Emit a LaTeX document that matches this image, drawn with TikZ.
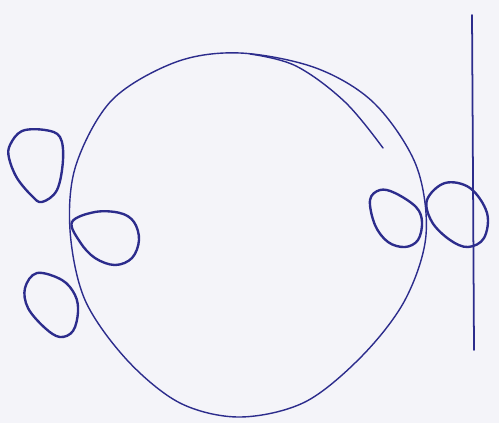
\documentclass[tikz,border=0pt]{standalone}
\usepackage{tikz}

\definecolor{ink}{RGB}{44,44,140}
\definecolor{paper}{RGB}{244,244,249}

\begin{document}
\begin{tikzpicture}[
    x=0.02cm, y=-0.02cm,
    % Style definitions
    pen/.style={draw=ink, line width=0.8pt, line cap=round, line join=round},
    loopline/.style={draw=ink, line width=1.35pt, line cap=round, line join=round},
    sheet/.style={fill=paper, draw=none},
]

% Paper
\path[sheet, use as bounding box] (0,0) rectangle (499,423);

% Big circle
\draw[pen] plot[smooth cycle, tension=0.55] coordinates {
    (426,235) (405,300) (362,356) (305,402) (240,417) (180,403) (127,360)
    (85,300) (70,230) (76,165) (112,100) (176,62) (240,53) (316,68)
    (374,103) (416,165)};

% Second stroke at the top
\draw[pen] plot[smooth, tension=0.6] coordinates {
    (250,54) (296,66) (345,102) (383,148)};

% Vertical line
\draw[pen, line width=1pt] plot[smooth] coordinates {
    (472,15) (473,180) (474,350)};

% Loops on the left
\draw[loopline] plot[smooth cycle, tension=0.6] coordinates {
    (10,145) (22,131) (45,130) (60,137) (63,160) (57,190) (42,202)
    (32,196) (17,178) (9,158)};
\draw[loopline] plot[smooth cycle, tension=0.6] coordinates {
    (72,222) (95,212) (120,213) (134,222) (139,240) (132,258) (115,265)
    (95,258) (80,242)};
\draw[loopline] plot[smooth cycle, tension=0.6] coordinates {
    (37,273) (25,288) (28,308) (45,328) (60,337) (73,331) (78,312)
    (75,295) (62,280)};

% Loops on the right
\draw[loopline] plot[smooth cycle, tension=0.6] coordinates {
    (370,200) (380,190) (395,193) (416,207) (422,222) (418,240) (405,247)
    (388,242) (375,225)};
\draw[loopline] plot[smooth cycle, tension=0.6] coordinates {
    (427,200) (445,183) (470,188) (487,213) (484,238) (468,247) (450,240)
    (432,222)};

\end{tikzpicture}
\end{document}
